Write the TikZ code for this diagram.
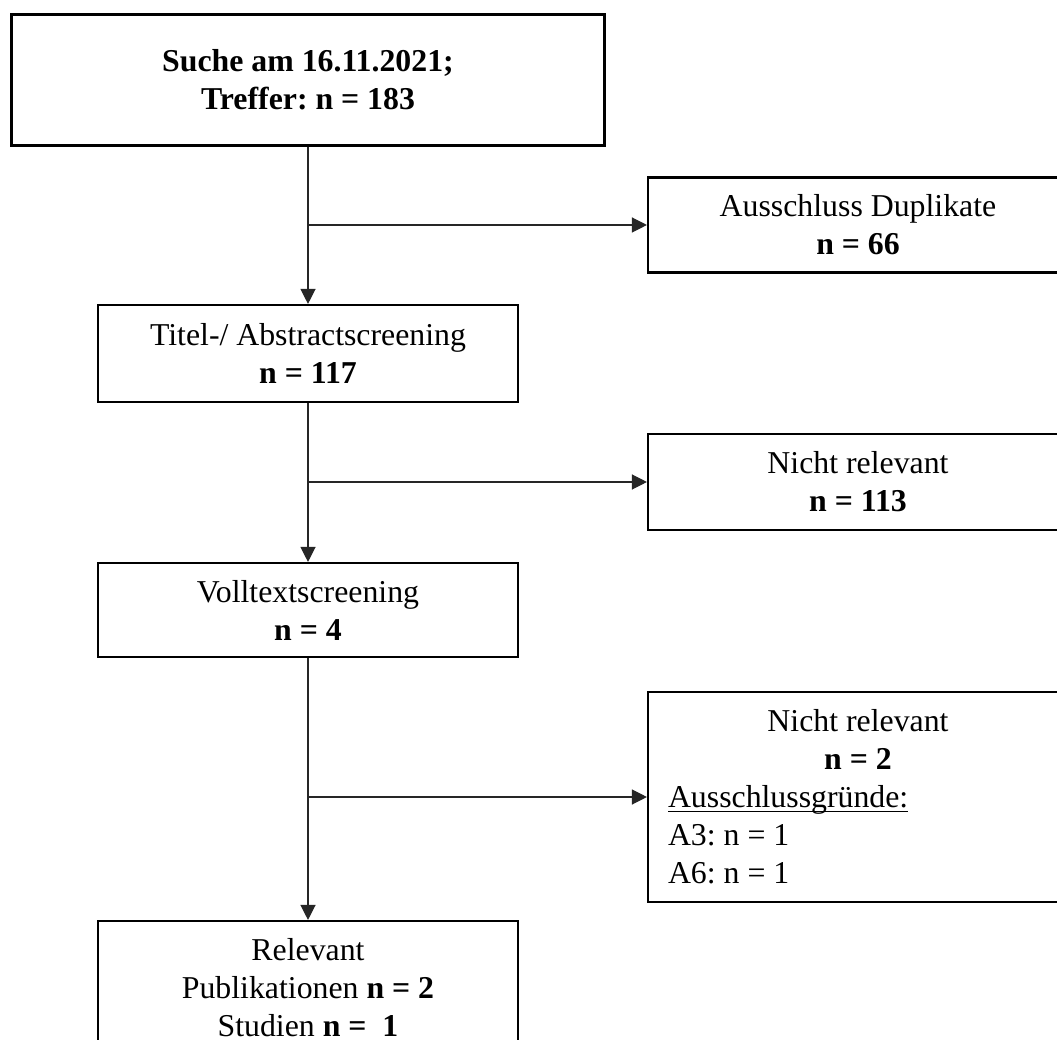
\documentclass[tikz,border=0pt]{standalone}
\usepackage{fontspec}
\setmainfont{Liberation Serif}
\usepackage{tikz}
\usetikzlibrary{arrows.meta}
\frenchspacing
\newcommand\ulreason[1]{\leavevmode\setbox0\hbox{#1}\rlap{\rule[-1.3pt]{\wd0}{0.45pt}}\box0}

\begin{document}
\begin{tikzpicture}[scale=1.0,
    every node/.style={font=\fontsize{9.05pt}{10.8pt}\selectfont},
    stepbox/.style={draw, line width=0.6pt, minimum width=4.2cm, align=center, inner sep=0pt},
    flow/.style={-{Triangle[length=0.15cm, width=0.15cm]}, line width=0.35pt, draw=black!85}]
\useasboundingbox (0,0) rectangle (10.57,-10.40);

% main column
\node[stepbox, minimum width=5.93cm, minimum height=1.31cm] (search) at (3.08,-0.80)
    {\textbf{Suche am 16.11.2021;}\\\textbf{Treffer: n = 183}};
\node[stepbox, minimum height=0.97cm] (titel) at (3.08,-3.535)
    {Titel-/ Abstractscreening\\\textbf{n = 117}};
\node[stepbox, minimum height=0.94cm] (voll) at (3.08,-6.10)
    {Volltextscreening\\\textbf{n = 4}};
\node[stepbox, minimum height=1.34cm] (relevant) at (3.08,-9.88)
    {Relevant\\Publikationen \textbf{n = 2}\\Studien \textbf{n =\ \ 1}};

% exclusions
\node[stepbox, minimum height=0.95cm] (dup) at (8.58,-2.25)
    {Ausschluss Duplikate\\\textbf{n = 66}};
\node[stepbox, minimum height=0.96cm] (nrel1) at (8.58,-4.82)
    {Nicht relevant\\\textbf{n = 113}};
\node[stepbox, minimum height=2.10cm, text width=3.8cm, align=left] (nrel2) at (8.58,-7.97)
    {\spaceskip=0pt\relax
     \makebox[3.8cm]{Nicht relevant}\\
     \makebox[3.8cm]{\textbf{n = 2}}\\
     \ulreason{Ausschlussgründe:}\\
     A3: n = 1\\
     A6: n = 1};

\coordinate (b1) at (search.south |- dup.west);
\coordinate (b2) at (titel.south |- nrel1.west);
\coordinate (b3) at (voll.south |- nrel2.west);

\draw[flow] (search.south) -- (titel.north);
\draw[flow] (titel.south) -- (voll.north);
\draw[flow] (voll.south) -- (relevant.north);
\draw[flow] (b1) -- (dup.west);
\draw[flow] (b2) -- (nrel1.west);
\draw[flow] (b3) -- (nrel2.west);
\end{tikzpicture}
\end{document}
